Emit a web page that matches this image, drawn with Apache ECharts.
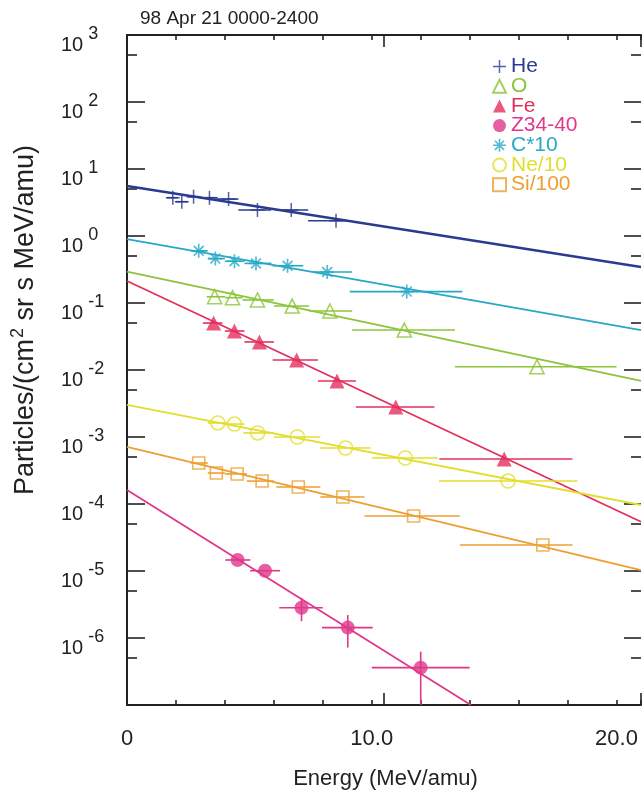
<!DOCTYPE html>
<html><head><meta charset="utf-8">
<script src="https://cdn.jsdelivr.net/npm/echarts@6/dist/echarts.min.js"></script>
<style>html,body{margin:0;padding:0;background:#fff}#c{width:644px;height:797px}</style>
</head><body><div id="c"></div>
<script>
// ---------- data ----------
const titleText = '98 Apr 21 0000-2400';
const xTitle = 'Energy (MeV/amu)';
const seriesNames = ['He', 'O', 'Fe', 'Z34-40', 'C*10', 'Ne/10', 'Si/100'];
const xTickLabels = {0: '0', 10: '10.0', 20: '20.0'};

// He
const heE    = [1.87, 2.24, 2.72, 3.37, 4.15, 5.33, 6.71, 8.54];
const heF    = [3.73, 3.25, 3.86, 3.73, 3.56, 2.44, 2.44, 1.69];
const heELo  = [1.63, 1.99, 2.48, 2.97, 3.66, 4.55, 6.10, 7.40];
const heEHi  = [2.07, 2.48, 2.97, 3.70, 4.55, 5.89, 7.40, 9.07];
// O
const oE     = [3.58, 4.31, 5.33, 6.75, 8.29, 11.33, 16.75];
const oF     = [0.124, 0.120, 0.111, 0.090, 0.076, 0.0395, 0.0112];
const oELo   = [3.26, 4.02, 4.72, 6.00, 7.44, 9.20, 13.40];
const oEHi   = [4.02, 4.72, 6.00, 7.44, 9.20, 13.40, 20.00];
// Fe
const feE    = [3.54, 4.39, 5.41, 6.93, 8.58, 10.98, 15.41];
const feF    = [0.0502, 0.0382, 0.0262, 0.0141, 0.00686, 0.00281, 0.00047];
const feELo  = [3.10, 4.00, 4.80, 5.95, 7.80, 9.35, 12.76];
const feEHi  = [3.90, 4.80, 6.00, 7.80, 9.35, 12.56, 18.20];
// Z34-40
const zE     = [4.52, 5.64, 7.13, 9.02, 12.00];
const zF     = [1.46e-5, 1.01e-5, 2.83e-6, 1.43e-6, 3.61e-7];
const zELo   = [4.02, 5.03, 6.22, 7.97, 10.00];
const zEHi   = [5.04, 6.25, 8.00, 10.04, 14.00];
const zFLo   = [1.46e-5, 1.01e-5, 1.78e-6, 7.2e-7, 1.0e-7];
const zFHi   = [1.46e-5, 1.01e-5, 3.98e-6, 2.2e-6, 6.25e-7];
// C*10
const cE     = [2.93, 3.61, 4.39, 5.27, 6.56, 8.18, 11.43];
const cF     = [0.60, 0.46, 0.42, 0.39, 0.36, 0.29, 0.148];
const cELo   = [2.60, 3.30, 4.00, 4.80, 5.95, 7.60, 9.10];
const cEHi   = [3.30, 4.00, 4.80, 5.90, 7.20, 9.20, 13.70];
// Ne/10
const neE    = [3.71, 4.39, 5.34, 6.96, 8.93, 11.37, 15.57];
const neF    = [0.00162, 0.00156, 0.00115, 0.00100, 0.000685, 0.000486, 0.000220];
const neELo  = [3.30, 4.00, 4.75, 6.00, 7.90, 10.00, 12.75];
const neEHi  = [4.10, 4.80, 6.00, 7.90, 9.95, 12.70, 18.40];
// Si/100
const siE    = [2.93, 3.65, 4.50, 5.52, 7.00, 8.82, 11.71, 16.99];
const siF    = [0.000409, 0.000290, 0.000281, 0.000220, 0.000179, 0.000127, 6.62e-5, 2.44e-5];
const siELo  = [2.60, 3.30, 4.00, 4.90, 6.10, 7.90, 9.70, 13.60];
const siEHi  = [3.30, 4.00, 4.90, 6.00, 7.90, 9.70, 13.60, 18.20];

// exponential fit lines (end points)
const fitE   = [0, 21];
const heFit  = [5.57, 0.344];
const cFit   = [0.90, 0.0395];
const oFit   = [0.293, 0.00686];
const feFit  = [0.213, 5.44e-5];
const neFit  = [0.00301, 9.66e-5];
const siFit  = [0.00071, 1.03e-5];
const zFitE  = [0, 14.05];
const zFit   = [1.62e-4, 1.0e-7];

// ---------- styling ----------
const FONT = '"Liberation Sans", Arial, Helvetica, sans-serif';
const INK = '#222';
const COL = {
  'He': '#2a3b8f', 'O': '#8cc43c', 'Fe': '#e2305c', 'Z34-40': '#e0378b',
  'C*10': '#27a9c6', 'Ne/10': '#e3de2c', 'Si/100': '#ee9f32'
};
const PLUS = 'path://M-1.1,-10L1.1,-10L1.1,-1.1L10,-1.1L10,1.1L1.1,1.1L1.1,10L-1.1,10L-1.1,1.1L-10,1.1L-10,-1.1L-1.1,-1.1Z';
const STAR = 'path://M-10,-1.2L10,-1.2L10,1.2L-10,1.2Z M-1.2,-10L1.2,-10L1.2,10L-1.2,10Z M-6.15,-7.85L7.85,6.15L6.15,7.85L-7.85,-6.15Z M-7.85,6.15L6.15,-7.85L7.85,-6.15L-6.15,7.85Z';

const SYM = {
  'He':     {symbol: PLUS, size: 14, hollow: false},
  'O':      {symbol: 'triangle', size: 14, hollow: true},
  'Fe':     {symbol: 'triangle', size: 15, hollow: false},
  'Z34-40': {symbol: 'circle', size: 14, hollow: false},
  'C*10':   {symbol: STAR, size: 14, hollow: false},
  'Ne/10':  {symbol: 'circle', size: 14, hollow: true},
  'Si/100': {symbol: 'rect', size: 12, hollow: true}
};

const sets = {
  'He':     {E: heE, F: heF, lo: heELo, hi: heEHi, fitE: fitE, fit: heFit},
  'O':      {E: oE, F: oF, lo: oELo, hi: oEHi, fitE: fitE, fit: oFit},
  'Fe':     {E: feE, F: feF, lo: feELo, hi: feEHi, fitE: fitE, fit: feFit},
  'Z34-40': {E: zE, F: zF, lo: zELo, hi: zEHi, flo: zFLo, fhi: zFHi, fitE: zFitE, fit: zFit},
  'C*10':   {E: cE, F: cF, lo: cELo, hi: cEHi, fitE: fitE, fit: cFit},
  'Ne/10':  {E: neE, F: neF, lo: neELo, hi: neEHi, fitE: fitE, fit: neFit},
  'Si/100': {E: siE, F: siF, lo: siELo, hi: siEHi, fitE: fitE, fit: siFit}
};

const series = [];
seriesNames.forEach(n => {
  const s = sets[n];
  series.push({
    type: 'line', name: n + ' fit', xAxisIndex: 0, yAxisIndex: 0,
    data: s.fitE.map((e, i) => [e, s.fit[i]]),
    showSymbol: false, symbol: 'none', clip: true, silent: true,
    lineStyle: {color: COL[n], width: n === 'He' ? 2.4 : 1.8},
    z: 2
  });
});
seriesNames.forEach(n => {
  const s = sets[n];
  const c = COL[n];
  series.push({
    type: 'custom', name: n + ' err', xAxisIndex: 0, yAxisIndex: 0, silent: true, z: 3,
    data: s.E.map((e, i) => [e, s.F[i], s.lo[i], s.hi[i],
      s.flo ? s.flo[i] : s.F[i], s.fhi ? s.fhi[i] : s.F[i]]),
    encode: {x: [0, 2, 3], y: [1, 4, 5]},
    renderItem: function (params, api) {
      const l = api.coord([api.value(2), api.value(1)]);
      const r = api.coord([api.value(3), api.value(1)]);
      const lo = api.coord([api.value(0), api.value(4)]);
      const hi = api.coord([api.value(0), api.value(5)]);
      const st = {stroke: c, lineWidth: 1.6};
      return {type: 'group', children: [
        {type: 'line', shape: {x1: l[0], y1: l[1], x2: r[0], y2: r[1]}, style: st},
        {type: 'line', shape: {x1: lo[0], y1: lo[1], x2: hi[0], y2: hi[1]}, style: st}
      ]};
    }
  });
});
seriesNames.forEach(n => {
  const s = sets[n];
  const sy = SYM[n];
  series.push({
    type: 'scatter', name: n, xAxisIndex: 0, yAxisIndex: 0, z: 4,
    data: s.E.map((e, i) => [e, s.F[i]]),
    symbol: sy.symbol, symbolSize: sy.size,
    itemStyle: sy.hollow
      ? {color: 'rgba(255,255,255,0)', borderColor: COL[n], borderWidth: 1.6}
      : {color: COL[n]}
  });
});

// ticks at 5 x 10^n (log10 positions)
const halfDecades = [];
for (let k = -7; k <= 2; k++) halfDecades.push(+(k + Math.log10(5)).toFixed(4));

const axisLineOn = {show: true, onZero: false, lineStyle: {color: INK, width: 2}};
const axisLineOff = {show: false, onZero: false};
const noLabel = {show: false};
const tickStyle = {color: INK, width: 1.6};

const option = {
  animation: false,
  backgroundColor: '#fff',
  title: {
    text: titleText, left: 135, top: 4,
    textStyle: {fontSize: 19, fontWeight: 'normal', color: INK, fontFamily: FONT}
  },
  grid: {left: 127, right: 0, top: 35, bottom: 92, containLabel: false},
  legend: {
    orient: 'vertical', left: 487, top: 51,
    itemWidth: 13, itemHeight: 13, itemGap: -1.3,
    textStyle: {fontSize: 21, fontFamily: FONT},
    data: seriesNames.map(n => ({
      name: n, icon: SYM[n].symbol,
      textStyle: {color: COL[n]}
    })),
    selectedMode: false
  },
  xAxis: [
    {type: 'value', position: 'bottom', min: 0, max: 21, interval: 2,
      axisLine: axisLineOn,
      axisTick: {show: true, inside: true, length: 5, lineStyle: tickStyle},
      axisLabel: {show: true, margin: 23, fontSize: 22, color: INK, fontFamily: FONT,
        formatter: v => (xTickLabels[v] !== undefined ? xTickLabels[v] : '')},
      splitLine: {show: false}},
    {type: 'value', position: 'bottom', min: 0, max: 20, interval: 10,
      axisLine: axisLineOff,
      axisTick: {show: true, inside: true, length: 12, lineStyle: tickStyle},
      axisLabel: noLabel, splitLine: {show: false}},
    {type: 'value', position: 'top', min: 0, max: 21, interval: 2,
      axisLine: axisLineOn,
      axisTick: {show: true, inside: true, length: 5, lineStyle: tickStyle},
      axisLabel: noLabel, splitLine: {show: false}},
    {type: 'value', position: 'top', min: 0, max: 20, interval: 10,
      axisLine: axisLineOff,
      axisTick: {show: true, inside: true, length: 12, lineStyle: tickStyle},
      axisLabel: noLabel, splitLine: {show: false}}
  ],
  yAxis: [
    {type: 'log', logBase: 10, position: 'left', min: 1e-7, max: 1e3, interval: 1,
      axisLine: axisLineOn,
      axisTick: {show: true, inside: true, length: 18, lineStyle: tickStyle},
      axisLabel: {
        show: true, align: 'left', margin: 66, padding: [20, 0, 0, 0],
        formatter: function (v) {
          const e = Math.round(Math.log10(v));
          if (e <= -7) return '';
          return '{a|10}{e|' + e + '}';
        },
        rich: {
          a: {fontSize: 20, fontFamily: FONT, color: INK, lineHeight: 20, verticalAlign: 'bottom'},
          e: {fontSize: 18, fontFamily: FONT, color: INK, lineHeight: 18, padding: [0, 0, 12, 5], verticalAlign: 'bottom'}
        }
      },
      splitLine: {show: false}},
    {type: 'value', position: 'left', min: -7, max: 3,
      axisLine: axisLineOff,
      axisTick: {show: true, inside: true, length: 10, customValues: halfDecades, lineStyle: tickStyle},
      axisLabel: noLabel, splitLine: {show: false}},
    {type: 'log', logBase: 10, position: 'right', min: 1e-7, max: 1e3, interval: 1,
      axisLine: axisLineOff,
      axisTick: {show: true, inside: true, length: 17, lineStyle: tickStyle},
      axisLabel: noLabel, splitLine: {show: false}},
    {type: 'value', position: 'right', min: -7, max: 3,
      axisLine: axisLineOff,
      axisTick: {show: true, inside: true, length: 10, customValues: halfDecades, lineStyle: tickStyle},
      axisLabel: noLabel, splitLine: {show: false}}
  ],
  graphic: [
    {type: 'text', x: 385.5, y: 779,
      style: {text: xTitle, fontSize: 22, fontFamily: FONT, fill: INK, align: 'center', verticalAlign: 'middle'}},
    {type: 'text', x: 26, y: 320, rotation: Math.PI / 2,
      style: {
        text: '{a|Particles/(cm}{s|2}{a| sr s MeV/amu)}',
        align: 'center', verticalAlign: 'middle',
        rich: {
          a: {fontSize: 27, fontFamily: FONT, fill: INK, lineHeight: 27, verticalAlign: 'bottom'},
          s: {fontSize: 18, fontFamily: FONT, fill: INK, lineHeight: 18, padding: [0, 0, 12, 1], verticalAlign: 'bottom'}
        }
      }}
  ],
  series: series
};

const chart = echarts.init(document.getElementById('c'), null, {renderer: 'canvas'});
chart.setOption(option);
</script></body></html>
